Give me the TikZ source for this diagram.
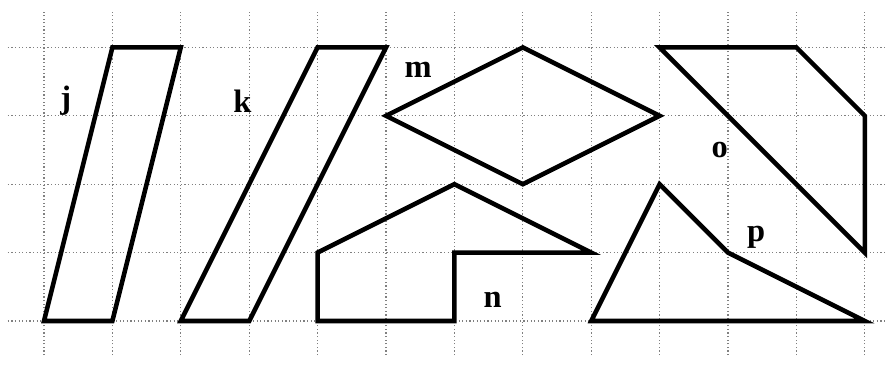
\documentclass[tikz,border=0pt]{standalone}
\usepackage{fontspec}
\setmainfont{Liberation Serif}
\tikzset{
  gridline/.style={gray, densely dotted, line width=0.5pt},
  figline/.style={line width=1.9pt, line join=miter},
  lbl/.style={font=\fontsize{13.5}{15}\selectfont\bfseries}
}
\begin{document}
\begin{tikzpicture}
	\useasboundingbox (-0.643,-0.702) rectangle (12.295,4.693);
	\foreach \x in {0,...,12} \draw[gridline] (\x,-0.5) -- (\x,4.52);
	\foreach \y in {0,...,4} \draw[gridline] (-0.53,\y) -- (12.295,\y);
	\draw[figline] (0,0) -- (1,0) -- (2,4) -- (1,4) -- cycle;
	\draw[figline] (2,0) -- (3,0) -- (5,4) -- (4,4) -- cycle;
	\draw[figline] (5,3) -- (7,4) -- (9,3) -- (7,2) -- cycle;
	\draw[figline] (4,0) -- (4,1) -- (6,2) -- (8,1) -- (6,1) -- (6,0) -- cycle;
	\draw[figline] (9,4) -- (11,4) -- (12,3) -- (12,1) -- cycle;
	\draw[figline] (8,0) -- (9,2) -- (10,1) -- (12,0) -- cycle;
	\node[lbl] (j) at (0.32,3.22) {j};
	\node[lbl] (k) at (2.9,3.22) {k};
	\node[lbl] (m) at (5.47,3.67) {m};
	\node[lbl] (n) at (6.56,0.31) {n};
	\node[lbl] (o) at (9.88,2.5) {o};
	\node[lbl] (p) at (10.41,1.23) {p};
\end{tikzpicture}
\end{document}
